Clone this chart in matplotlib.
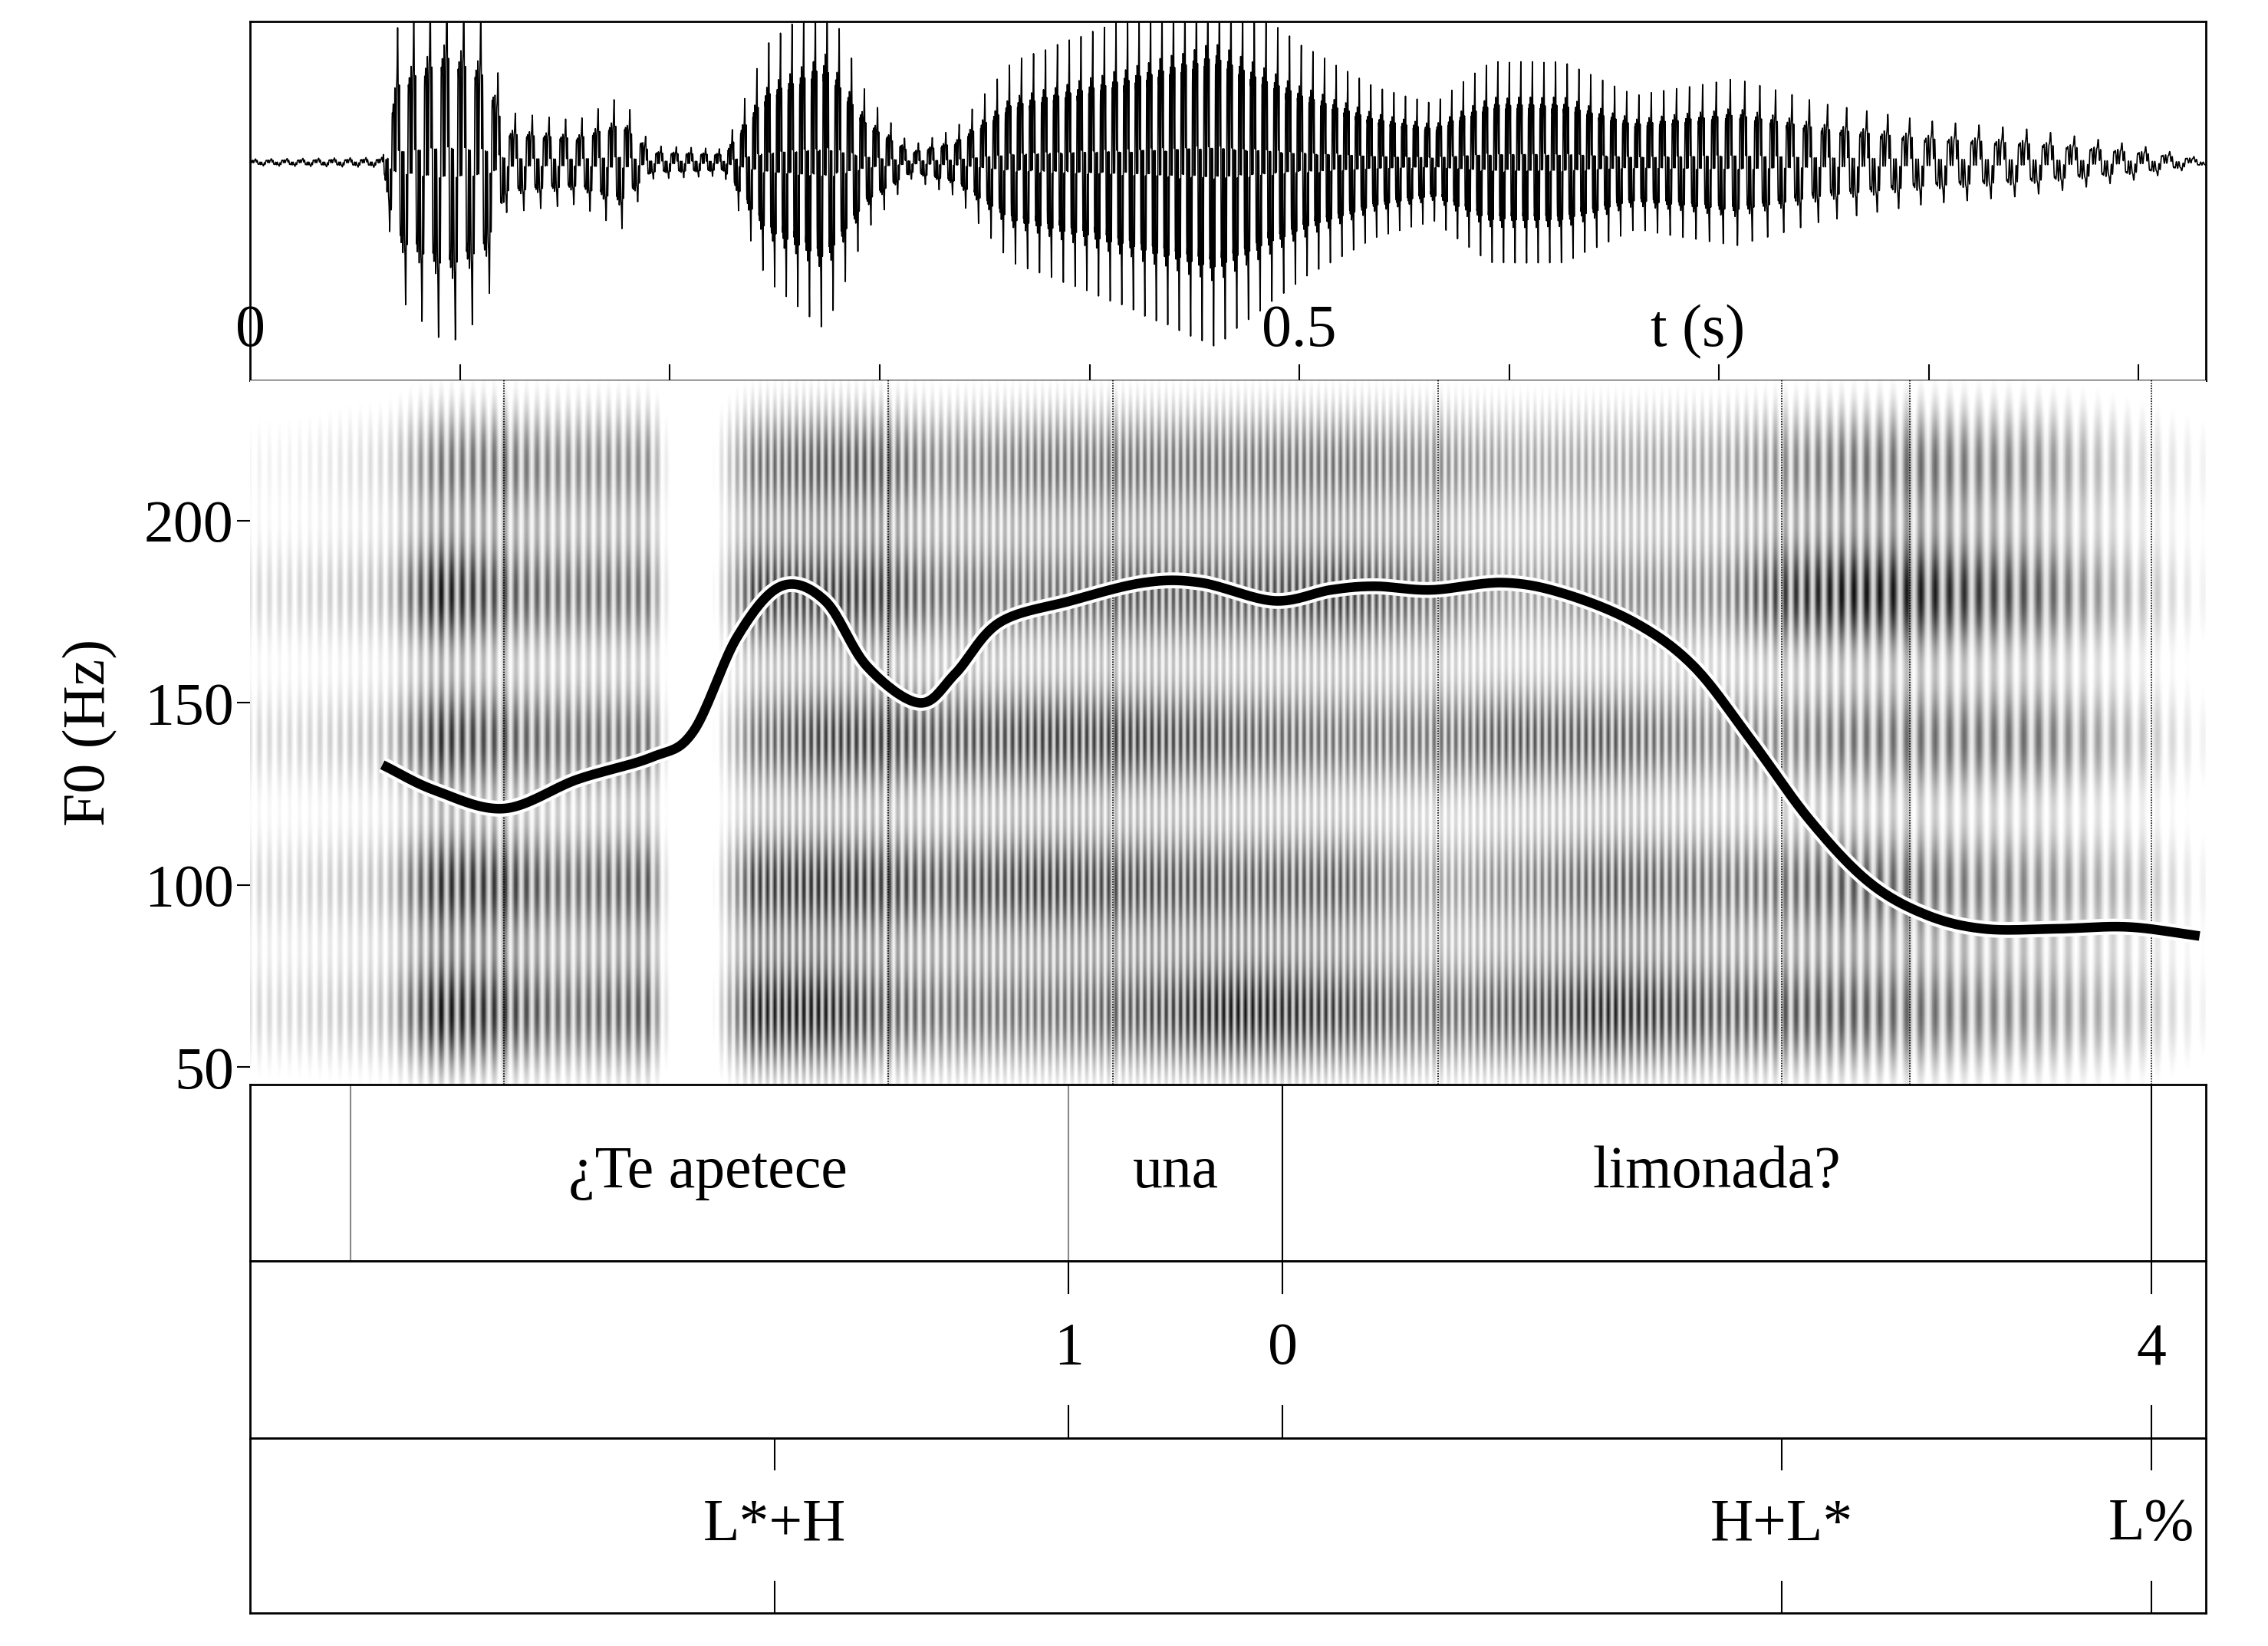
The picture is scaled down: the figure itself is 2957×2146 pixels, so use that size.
import numpy as np
import matplotlib
matplotlib.use("Agg")
import matplotlib.pyplot as plt
from matplotlib.colors import LinearSegmentedColormap

plt.rcParams['font.family'] = ['Liberation Serif', 'DejaVu Serif']

T_END = 0.932
# F0 contour (s, Hz)
f0_t = [0.063, 0.088, 0.121, 0.156, 0.191, 0.211, 0.232, 0.253, 0.274, 0.294, 0.319, 0.336, 0.357, 0.391,
        0.426, 0.453, 0.488, 0.515, 0.536, 0.563, 0.597, 0.626, 0.66, 0.688, 0.715, 0.743, 0.771, 0.798,
        0.826, 0.861, 0.895, 0.929]
f0_hz = [133, 126, 121, 129, 135, 142, 168, 182, 178, 160, 150, 158, 172, 178, 183, 183, 178, 181, 182,
         181, 183, 180, 172, 160, 140, 118, 101, 92, 88, 88, 88.5, 86]
# Segment boundaries in spectrogram (s)
seg_bounds = [0.121, 0.304, 0.411, 0.566, 0.730, 0.791, 0.906]
# Word tier
word_bounds = [0.048, 0.390, 0.492, 0.906]
word_labels = ["¿Te apetece", "una", "limonada?"]
word_pos = [0.218, 0.441, 0.699]
# Break tier
brk_t = [0.390, 0.492, 0.906]
brk_labels = ["1", "0", "4"]
# Tone tier
tone_t = [0.250, 0.730, 0.906]
tone_labels = ["L*+H", "H+L*", "L%"]
# Waveform envelope (s, relative amplitude)
env_t = [0.0, 0.063, 0.07, 0.094, 0.112, 0.122, 0.156, 0.177, 0.191, 0.226, 0.246, 0.274, 0.294, 0.315,
         0.336, 0.363, 0.405, 0.46, 0.48, 0.501, 0.536, 0.564, 0.591, 0.626, 0.66, 0.708, 0.75, 0.798,
         0.846, 0.901, 0.932]
env_a = [0.02, 0.03, 0.8, 1.1, 0.9, 0.3, 0.25, 0.4, 0.1, 0.08, 0.7, 1.0, 0.4, 0.1, 0.2, 0.6, 0.8, 1.1,
         0.9, 0.7, 0.45, 0.35, 0.6, 0.6, 0.4, 0.5, 0.35, 0.25, 0.2, 0.1, 0.02]
# Spectrogram darkness: time points and band energies at 65,100,140,180,215 Hz
sp_t = [0.02, 0.065, 0.09, 0.121, 0.15, 0.19, 0.2, 0.22, 0.24, 0.27, 0.3, 0.33, 0.38, 0.42, 0.47, 0.52,
        0.566, 0.6, 0.65, 0.7, 0.73, 0.76, 0.8, 0.85, 0.9, 0.93]
sp_b65 = [0.2, 0.3, 0.95, 0.8, 0.6, 0.7, 0.05, 0.05, 0.9, 0.95, 0.7, 0.6, 0.6, 0.7, 0.95, 0.8, 0.6, 0.7, 0.9, 0.7, 0.7, 0.7, 0.6, 0.5, 0.3, 0.1]
sp_b100 = [0.2, 0.3, 0.85, 0.8, 0.6, 0.7, 0.05, 0.05, 0.8, 0.85, 0.8, 0.7, 0.8, 0.75, 0.7, 0.7, 0.4, 0.5, 0.7, 0.6, 0.6, 0.7, 0.6, 0.5, 0.3, 0.1]
sp_b140 = [0.2, 0.3, 0.85, 0.7, 0.6, 0.6, 0.05, 0.05, 0.6, 0.8, 0.8, 0.7, 0.8, 0.8, 0.7, 0.6, 0.6, 0.7, 0.7, 0.5, 0.5, 0.6, 0.6, 0.6, 0.3, 0.1]
sp_b180 = [0.2, 0.3, 0.95, 0.7, 0.6, 0.6, 0.05, 0.05, 0.8, 0.8, 0.8, 0.6, 0.6, 0.7, 0.7, 0.8, 0.6, 0.4, 0.5, 0.5, 0.8, 0.95, 0.9, 0.7, 0.3, 0.1]
sp_b215 = [0.1, 0.2, 0.6, 0.6, 0.5, 0.5, 0.05, 0.05, 0.6, 0.7, 0.7, 0.5, 0.6, 0.6, 0.6, 0.6, 0.5, 0.4, 0.4, 0.4, 0.5, 0.6, 0.6, 0.5, 0.2, 0.1]


def catmull(x, y, n=20):
    x = np.asarray(x, float); y = np.asarray(y, float)
    xp = np.concatenate([[2 * x[0] - x[1]], x, [2 * x[-1] - x[-2]]])
    yp = np.concatenate([[2 * y[0] - y[1]], y, [2 * y[-1] - y[-2]]])
    ox, oy = [], []
    s = np.linspace(0, 1, n, endpoint=False)
    for i in range(1, len(xp) - 2):
        for arr, out in ((xp, ox), (yp, oy)):
            p0, p1, p2, p3 = arr[i - 1:i + 3]
            out.extend(0.5 * (2 * p1 + (-p0 + p2) * s + (2 * p0 - 5 * p1 + 4 * p2 - p3) * s ** 2
                              + (-p0 + 3 * p1 - 3 * p2 + p3) * s ** 3))
    ox.append(x[-1]); oy.append(y[-1])
    return np.array(ox), np.array(oy)


FS = 56
fig = plt.figure(figsize=(29.57, 21.46), dpi=100)
L, R = 0.1103, 0.9726
axw = fig.add_axes([L, 0.7689, R - L, 0.9868 - 0.7689])
axs = fig.add_axes([L, 0.341, R - L, 0.7689 - 0.341])
tiers = [fig.add_axes([L, b, R - L, h]) for b, h in [(0.2337, 0.341 - 0.2337), (0.1265, 0.2337 - 0.1265), (0.0202, 0.1265 - 0.0202)]]

# Waveform
t = np.linspace(0, T_END, 20000)
f0i = np.interp(t, f0_t, f0_hz)
phase = np.cumsum(f0i) * (t[1] - t[0])
env = np.interp(t, env_t, env_a)
carrier = np.sin(2 * np.pi * phase) + 0.6 * np.sin(6 * np.pi * phase + 1) + 0.5 * np.sin(14 * np.pi * phase) + 0.4 * np.sin(22 * np.pi * phase + 2)
axw.plot(t, env * carrier / 1.6, color='black', lw=1.2)
axw.set_xlim(0, T_END); axw.set_ylim(-1.55, 1.0)
axw.set_yticks([])
axw.set_xticks(np.arange(0.1, 0.95, 0.1))
axw.tick_params(axis='x', direction='in', length=15, width=1.5, labelbottom=False)
for s in axw.spines.values():
    s.set_linewidth(2)
axw.text(0.0, -1.4, "0", fontsize=FS, ha='center', va='bottom')
axw.text(0.5, -1.4, "0.5", fontsize=FS, ha='center', va='bottom')
axw.text(0.69, -1.4, "t (s)", fontsize=FS, ha='center', va='bottom')

# Spectrogram
ts = np.linspace(0, T_END, 1400)
fs = np.linspace(45, 238.5, 500)
TT, FF = np.meshgrid(ts, fs)
centers = [65, 100, 140, 180, 215]
bands = [sp_b65, sp_b100, sp_b140, sp_b180, sp_b215]
img = np.zeros_like(TT)
for c, b in zip(centers, bands):
    img += np.interp(ts, sp_t, b)[None, :] * np.exp(-((FF - c) / 16) ** 2)
ph = (np.interp(ts, f0_t, f0_hz, left=130, right=86) * 1.6).cumsum() * (ts[1] - ts[0])
striation = 0.6 + 0.4 * np.cos(2 * np.pi * ph)
img = img * striation[None, :]
cmap = LinearSegmentedColormap.from_list('g', ['white', 'black'])
axs.imshow(img, extent=[0, T_END, 45, 238.5], origin='lower', aspect='auto', cmap=cmap, vmin=0.05, vmax=1.0)
for b in seg_bounds:
    axs.axvline(b, color='black', lw=1.2, ls=(0, (1, 1)))
cx, cy = catmull(f0_t, f0_hz)
axs.plot(cx, cy, color='white', lw=15, solid_capstyle='butt')
axs.plot(cx, cy, color='black', lw=9, solid_capstyle='butt')
axs.set_xlim(0, T_END); axs.set_ylim(45.2, 238.5)
axs.set_xticks([])
axs.set_yticks([50, 100, 150, 200])
axs.tick_params(axis='y', labelsize=FS, length=12, width=1.5)
axs.set_ylabel("F0 (Hz)", fontsize=FS, labelpad=25)
for s in axs.spines.values():
    s.set_visible(False)

# Tiers
for ax in tiers:
    ax.set_xlim(0, T_END); ax.set_ylim(0, 1)
    ax.set_xticks([]); ax.set_yticks([])
    for s in ax.spines.values():
        s.set_linewidth(2)
for b in word_bounds:
    tiers[0].axvline(b, color='black' if b > 0.4 else '#888888', lw=1.5)
for x, lab in zip(word_pos, word_labels):
    tiers[0].text(x, 0.5, lab, fontsize=FS, ha='center', va='center')
for ax, pts, labs in [(tiers[1], brk_t, brk_labels), (tiers[2], tone_t, tone_labels)]:
    for x, lab in zip(pts, labs):
        ax.plot([x, x], [0, 0.18], color='black', lw=1.5)
        ax.plot([x, x], [0.82, 1], color='black', lw=1.5)
        ax.text(x, 0.5, lab, fontsize=FS, ha='center', va='center')

fig.savefig("out.png", dpi=100)
